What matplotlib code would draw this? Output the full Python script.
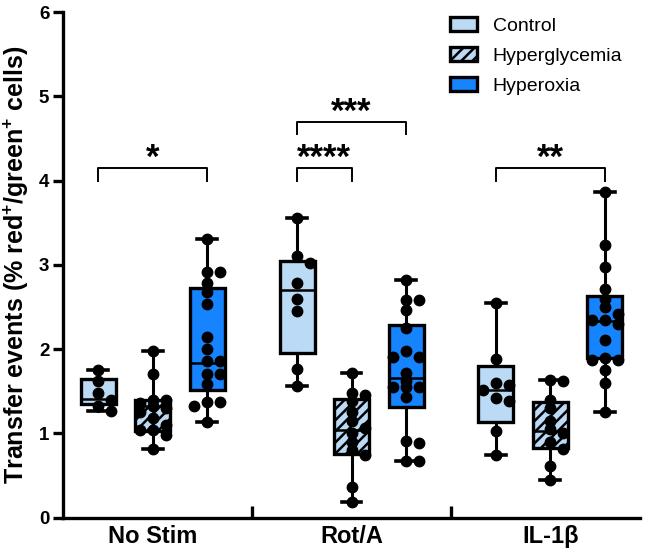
import numpy as np
import matplotlib
matplotlib.use("Agg")
import matplotlib.pyplot as plt
from matplotlib.patches import Patch

plt.rcParams['font.family'] = ['Liberation Sans', 'DejaVu Sans']
plt.rcParams['mathtext.fontset'] = 'custom'
plt.rcParams['mathtext.rm'] = 'Liberation Sans:bold'
plt.rcParams['mathtext.bf'] = 'Liberation Sans:bold'
plt.rcParams['hatch.linewidth'] = 1.8

# groups and conditions
groups = ["No Stim", "Rot/A", "IL-1β"]
conditions = ["Control", "Hyperglycemia", "Hyperoxia"]

# individual points per group (Control, Hyperglycemia, Hyperoxia)
nostim_control = [1.75, 1.62, 1.48, 1.40, 1.32, 1.26]
nostim_hyperglycemia = [1.98, 1.70, 1.40, 1.40, 1.36, 1.33, 1.30, 1.25, 1.18, 1.10, 1.04, 1.04, 0.98, 0.82]
nostim_hyperoxia = [3.31, 2.91, 2.91, 2.79, 2.68, 2.53, 2.14, 2.00, 1.86, 1.86, 1.71, 1.71, 1.59, 1.37, 1.37, 1.32, 1.14]

rota_control = [3.56, 3.10, 3.02, 2.78, 2.59, 2.45, 1.77, 1.56]
rota_hyperglycemia = [1.72, 1.48, 1.45, 1.38, 1.25, 1.15, 1.06, 1.00, 0.90, 0.80, 0.74, 0.36, 0.18]
rota_hyperoxia = [2.82, 2.58, 2.58, 2.46, 2.25, 1.98, 1.91, 1.91, 1.72, 1.62, 1.55, 1.55, 1.55, 1.43, 0.91, 0.88, 0.67, 0.67]

il1b_control = [2.55, 1.88, 1.60, 1.58, 1.52, 1.42, 1.38, 1.03, 0.74]
il1b_hyperglycemia = [1.63, 1.62, 1.40, 1.30, 1.15, 1.05, 1.00, 0.90, 0.82, 0.61, 0.45]
il1b_hyperoxia = [3.86, 3.24, 2.98, 2.71, 2.60, 2.50, 2.42, 2.34, 2.34, 2.30, 2.11, 1.89, 1.87, 1.87, 1.75, 1.60, 1.25]

# box quartiles (q1, median, q3)
q1 = [[1.35, 1.03, 1.51], [1.95, 0.75, 1.31], [1.13, 0.83, 1.89]]
medians = [[1.41, 1.33, 1.83], [2.70, 1.04, 1.66], [1.52, 1.03, 2.33]]
q3 = [[1.65, 1.40, 2.73], [3.05, 1.41, 2.29], [1.80, 1.37, 2.63]]

# significance brackets: group, condition a, condition b, height, label
sig_groups = [0, 1, 1, 2]
sig_a = [0, 0, 0, 0]
sig_b = [2, 1, 2, 2]
sig_heights = [4.15, 4.15, 4.70, 4.15]
sig_labels = ["*", "****", "***", "**"]

points = [
    [nostim_control, nostim_hyperglycemia, nostim_hyperoxia],
    [rota_control, rota_hyperglycemia, rota_hyperoxia],
    [il1b_control, il1b_hyperglycemia, il1b_hyperoxia],
]

light_blue = "#BBDAF5"
bright_blue = "#1683FF"
fills = [light_blue, light_blue, bright_blue]
hatches = [None, "///", None]

offset = 0.274
box_w = 0.176

fig = plt.figure(figsize=(6.45, 5.53), dpi=100)
ax = fig.add_axes([0.098, 0.064, 0.894, 0.914])
ax.set_xlim(-0.45, 2.45)
ax.set_ylim(0, 6)


def swarm(vals, xc):
    # small beeswarm in pixel space, at most one step to each side
    to_px = ax.transData
    step = 13.0
    diam = 8.0
    placed = []
    xs = []
    for v in vals:
        px0, py = to_px.transform((xc, v))
        px = px0
        for k in [0, 1, -1]:
            cand = px0 + k * step
            if all((cand - a) ** 2 + (py - b) ** 2 >= diam ** 2 for a, b in placed):
                px = cand
                break
        placed.append((px, py))
        xs.append(to_px.inverted().transform((px, py))[0])
    return xs


for g in range(3):
    for c in range(3):
        vals = points[g][c]
        xc = g + (c - 1) * offset
        stats = [dict(med=medians[g][c], q1=q1[g][c], q3=q3[g][c],
                      whislo=min(vals), whishi=max(vals), fliers=[])]
        bp = ax.bxp(stats, positions=[xc], widths=box_w, capwidths=0.1,
                    patch_artist=True, showfliers=False,
                    boxprops=dict(facecolor=fills[c], edgecolor="black", linewidth=2.4),
                    medianprops=dict(color="black", linewidth=1.8),
                    whiskerprops=dict(color="black", linewidth=2.2),
                    capprops=dict(color="black", linewidth=2.6))
        if hatches[c]:
            bp["boxes"][0].set_hatch(hatches[c])
        xs = swarm(vals, xc)
        ax.plot(xs, vals, "o", color="black", markersize=7.5, zorder=3)

# significance brackets
leg = 0.15
for g, a, b, h, lab in zip(sig_groups, sig_a, sig_b, sig_heights, sig_labels):
    xa = g + (a - 1) * offset
    xb = g + (b - 1) * offset
    ax.plot([xa, xa, xb, xb], [h - leg, h, h, h - leg], color="black", linewidth=1.4)
    ax.text((xa + xb) / 2, h + 0.0, lab, ha="center", va="baseline",
            fontsize=25, fontweight="bold")

# axes styling
for s in ["top", "right"]:
    ax.spines[s].set_visible(False)
ax.spines["left"].set_linewidth(2.4)
ax.spines["bottom"].set_linewidth(2.4)

ax.set_yticks(range(7))
ax.set_yticklabels([str(i) for i in range(7)], fontsize=13.5, fontweight="bold")
ax.tick_params(axis="y", width=2.4, length=7, pad=3)

ax.set_xticks([0.5, 1.5])
ax.set_xticklabels([])
ax.tick_params(axis="x", which="major", direction="in", width=2.4, length=9)
ax.set_xticks([0, 1, 2], minor=True)
ax.set_xticklabels(groups, minor=True, fontsize=17, fontweight="bold")
ax.tick_params(axis="x", which="minor", length=0, pad=5)

ax.set_ylabel(r"Transfer events (% red$^{+}$/green$^{+}$ cells)",
              fontsize=18, fontweight="bold", labelpad=6)

handles = [Patch(facecolor=fills[i], edgecolor="black", linewidth=2.4,
                 hatch=hatches[i]) for i in range(3)]
ax.legend(handles, conditions, loc="upper right", bbox_to_anchor=(1.0, 1.025),
          frameon=False, fontsize=14, handlelength=1.4, handleheight=0.75,
          labelspacing=0.62, handletextpad=0.8)

fig.savefig("out.png", dpi=100)
